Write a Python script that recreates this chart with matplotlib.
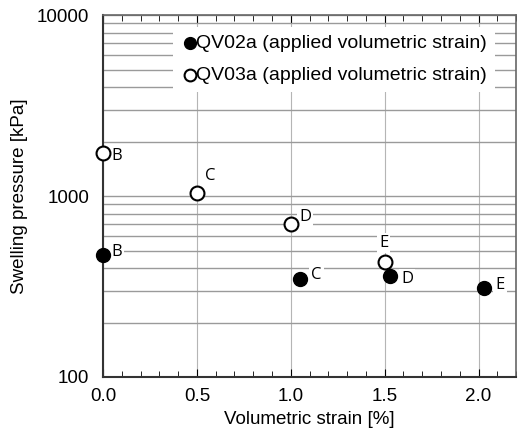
import matplotlib.pyplot as plt
import numpy as np
from matplotlib.ticker import LogLocator, NullFormatter, FixedLocator, MultipleLocator

plt.rcParams['font.family'] = ['Liberation Sans', 'DejaVu Sans']

# data
strain_qv02 = [0.0, 1.05, 1.53, 2.03]
press_qv02 = [472, 348, 361, 310]
labels_qv02 = ['B', 'C', 'D', 'E']

strain_qv03 = [0.0, 0.5, 1.0, 1.5]
press_qv03 = [1730, 1040, 700, 432]
labels_qv03 = ['B', 'C', 'D', 'E']

x_ticks = [0.0, 0.5, 1.0, 1.5, 2.0]
y_ticks = [100, 1000, 10000]

# label offsets in points (dx, dy)
off_qv02 = [(6, 2), (8, 3), (8, -2), (8, 2)]
off_qv03 = [(6, -2), (6, 12), (6, 5), (-4, 14)]

fig = plt.figure(figsize=(5.19, 4.43), dpi=100)
ax = fig.add_axes([0.1985, 0.149, 0.796, 0.817])

ax.set_yscale('log')
ax.set_xlim(0, 2.2)
ax.set_ylim(100, 10000)

ax.yaxis.set_major_locator(FixedLocator(y_ticks))
ax.yaxis.set_minor_locator(LogLocator(base=10, subs=np.arange(2, 10)))
ax.yaxis.set_minor_formatter(NullFormatter())
ax.set_yticklabels([str(v) for v in y_ticks])
ax.xaxis.set_major_locator(FixedLocator(x_ticks))
ax.xaxis.set_minor_locator(MultipleLocator(0.1))
ax.set_xticklabels(['%.1f' % v for v in x_ticks])

ax.grid(True, which='minor', axis='y', color='#9a9a9a', lw=1.0)
ax.grid(True, which='major', axis='y', color='#9a9a9a', lw=1.0)
ax.grid(True, which='major', axis='x', color='#b5b5b5', lw=0.8)

ax.tick_params(axis='x', which='both', direction='in', top=True, labelsize=13.5, pad=8)
ax.tick_params(axis='x', which='major', length=6)
ax.tick_params(axis='x', which='minor', length=4)
ax.tick_params(axis='y', which='major', length=0, labelsize=13.5, pad=10)
ax.tick_params(axis='y', which='minor', length=0)
for s in ax.spines.values():
    s.set_color('#666666')
    s.set_linewidth(1.2)
ax.spines['left'].set_color('#333333')
ax.spines['bottom'].set_color('#333333')
ax.spines['left'].set_linewidth(1.5)
ax.spines['bottom'].set_linewidth(1.5)

ax.scatter(strain_qv02, press_qv02, s=100, c='black', edgecolors='black',
           zorder=5, clip_on=False, label='QV02a (applied volumetric strain)')
ax.scatter(strain_qv03, press_qv03, s=100, c='white', edgecolors='black', lw=1.5,
           zorder=5, clip_on=False, label='QV03a (applied volumetric strain)')

bb = dict(facecolor='white', edgecolor='none', pad=1.5)
for x, y, t, o in zip(strain_qv02, press_qv02, labels_qv02, off_qv02):
    ax.annotate(t, (x, y), xytext=o, textcoords='offset points', fontsize=12,
                family='Open Sans', va='center', ha='left', bbox=bb, zorder=4)
for x, y, t, o in zip(strain_qv03, press_qv03, labels_qv03, off_qv03):
    ax.annotate(t, (x, y), xytext=o, textcoords='offset points', fontsize=12,
                family='Open Sans', va='center', ha='left', bbox=bb, zorder=4)

leg = ax.legend(loc='upper left', bbox_to_anchor=(0.145, 0.995), fontsize=14,
                frameon=True, fancybox=False, edgecolor='none', framealpha=1,
                handletextpad=-0.2, handlelength=1.0, labelspacing=0.75,
                borderpad=0.4, markerscale=0.85)
leg.set_zorder(6)

ax.set_xlabel('Volumetric strain [%]', fontsize=13.5, labelpad=4)
ax.set_ylabel('Swelling pressure [kPa]', fontsize=13.5, labelpad=6)

fig.savefig('out.png', dpi=100)
